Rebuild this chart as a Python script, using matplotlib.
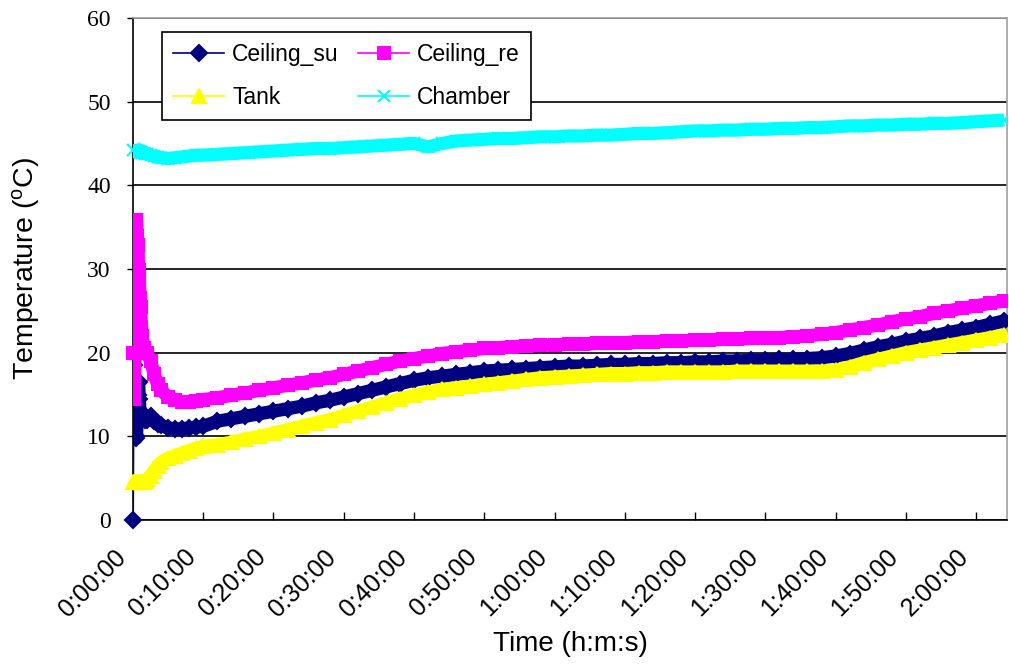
import numpy as np
import matplotlib
matplotlib.use("Agg")
from matplotlib import pyplot as plt
from matplotlib.lines import Line2D
from matplotlib.ticker import FuncFormatter, MultipleLocator
from matplotlib.transforms import ScaledTranslation

plt.rcParams['font.family'] = ['Liberation Sans', 'DejaVu Sans']
plt.rcParams['mathtext.default'] = 'regular'

# time in minutes
t_early = [0, 0.1, 0.2, 0.3, 0.4, 0.5, 0.6, 0.7, 0.8, 0.9, 1.0, 1.1, 1.2, 1.3,
           1.5, 1.7, 2, 2.5, 3, 3.5, 4, 5, 6, 7, 8, 9, 10]
t_late = [12, 14, 16, 18, 20, 22, 24, 26, 28, 30, 32, 34, 36, 38, 40, 42, 44, 46,
          48, 50, 52, 54, 56, 58, 60, 62, 64, 66, 68, 70, 72, 74, 76, 78, 80, 82,
          84, 86, 88, 90, 92, 94, 96, 98, 100, 102, 104, 106, 108, 110, 112, 114,
          116, 118, 120, 122, 124]
time_min = t_early + t_late

ceiling_su = [0, 18.5, 11.5, 12.3, 10.0, 9.8, 12.0, 15.0, 16.5, 14.5, 13.0, 12.5, 12.0, 12.8,
              12.2, 12.0, 12.0, 12.4, 11.8, 11.5, 11.3, 11.0, 10.9, 10.9, 11.0, 11.1, 11.2,
              11.8, 12.1, 12.4, 12.7, 13.0, 13.3, 13.6, 14.0, 14.3, 14.7, 15.1, 15.5, 15.9, 16.3,
              16.7, 17.0, 17.2, 17.4, 17.6, 17.8, 17.9, 18.0, 18.1, 18.2, 18.3, 18.4, 18.4, 18.5,
              18.6, 18.6, 18.7, 18.7, 18.8, 18.8, 18.9, 18.9, 19.0, 19.0, 19.1, 19.1, 19.2, 19.2,
              19.3, 19.4, 19.6, 19.9, 20.3, 20.7, 21.0, 21.4, 21.7, 22.0, 22.4, 22.7, 23.0, 23.4,
              23.8]
ceiling_re = [20, 23, 14.5, 20, 30, 35.8, 34, 32.9, 29.9, 28.9, 26.5, 25.4, 23, 22,
              20.5, 20.0, 20.0, 19.0, 17.5, 16.2, 15.5, 14.7, 14.3, 14.1, 14.1, 14.2, 14.4,
              14.6, 14.9, 15.2, 15.5, 15.8, 16.1, 16.4, 16.7, 17.0, 17.4, 17.8, 18.2, 18.6, 19.0,
              19.3, 19.6, 19.9, 20.1, 20.3, 20.5, 20.6, 20.7, 20.8, 20.9, 20.9, 21.0, 21.0, 21.1,
              21.2, 21.2, 21.3, 21.3, 21.4, 21.4, 21.5, 21.5, 21.6, 21.6, 21.7, 21.7, 21.8, 21.9,
              22.0, 22.2, 22.4, 22.7, 23.0, 23.3, 23.7, 24.0, 24.3, 24.7, 25.0, 25.3, 25.6, 25.9,
              26.2]
tank = [4.6, 4.6, 4.6, 4.6, 4.6, 4.6, 4.6, 4.6, 4.6, 4.6, 4.6, 4.6, 4.6, 4.6,
        4.6, 4.7, 4.9, 5.3, 5.9, 6.5, 6.9, 7.4, 7.7, 8.0, 8.3, 8.6, 8.8,
        9.0, 9.3, 9.7, 10.0, 10.4, 10.8, 11.2, 11.6, 12.0, 12.5, 13.0, 13.5, 14.0, 14.5,
        14.9, 15.3, 15.6, 15.8, 16.0, 16.2, 16.4, 16.6, 16.8, 17.0, 17.1, 17.2, 17.3, 17.4,
        17.5, 17.5, 17.6, 17.6, 17.7, 17.7, 17.7, 17.7, 17.7, 17.8, 17.8, 17.8, 17.8, 17.8,
        17.8, 17.8, 17.9, 18.3, 18.8, 19.2, 19.6, 20.0, 20.3, 20.6, 20.9, 21.2, 21.5, 21.8,
        22.1]
chamber = [44.2, 44.3, 44.2, 44.1, 44.2, 44.1, 44.1, 44.1, 44.0, 44.1, 44.0, 44.0, 43.9, 43.9,
           43.9, 43.8, 43.8, 43.6, 43.5, 43.4, 43.3, 43.2, 43.3, 43.4, 43.5, 43.6, 43.6,
           43.7, 43.8, 43.9, 44.0, 44.1, 44.2, 44.3, 44.4, 44.4, 44.5, 44.6, 44.7, 44.8, 44.9,
           45.0, 44.6, 45.0, 45.3, 45.4, 45.5, 45.6, 45.6, 45.7, 45.8, 45.8, 45.9, 45.9, 46.0,
           46.0, 46.1, 46.2, 46.2, 46.3, 46.4, 46.5, 46.5, 46.6, 46.6, 46.7, 46.7, 46.8, 46.8,
           46.9, 46.9, 47.0, 47.1, 47.1, 47.2, 47.2, 47.3, 47.3, 47.4, 47.4, 47.5, 47.6, 47.7,
           47.8]

series = [
    ("Ceiling_su", ceiling_su, "#000080", "D", 8),
    ("Ceiling_re", ceiling_re, "#FF00FF", "s", 9),
    ("Tank", tank, "#FFFF00", "^", 10),
    ("Chamber", chamber, "#00FFFF", "x", 9),
]

fig = plt.figure(figsize=(10.09, 6.66), dpi=100)
ax = fig.add_axes([0.1318, 0.2192, 0.9980 - 0.1318, 0.9730 - 0.2192])

for name, vals, col, mk, ms in series:
    # thin connecting line plus the first marker
    ax.plot(time_min[:2], vals[:2], color=col, linewidth=1.5, zorder=3)
    ax.plot(time_min[:1], vals[:1], color=col, linestyle='none', marker=mk,
            markersize=ms, markeredgewidth=1.5, zorder=3, clip_on=False)
    # dense marker band
    ax.plot(time_min[1:], vals[1:], color=col, linewidth=9.5, solid_capstyle='butt',
            solid_joinstyle='round', marker=mk, markersize=ms, markeredgewidth=1.5, zorder=3)

ax.set_xlim(0, 124.4)
ax.set_ylim(0, 60)
ax.xaxis.set_major_locator(MultipleLocator(10))
ax.yaxis.set_major_locator(MultipleLocator(10))
ax.xaxis.set_major_formatter(FuncFormatter(lambda v, p: "%d:%02d:00" % (int(v // 60), int(round(v)) % 60)))

ax.grid(axis='y', color='black', linewidth=1.2, zorder=1)
ax.set_axisbelow(True)
for s in ['top', 'right']:
    ax.spines[s].set_color('#a0a0a0')
    ax.spines[s].set_linewidth(1.2)
for s in ['left', 'bottom']:
    ax.spines[s].set_color('black')
    ax.spines[s].set_linewidth(1.2)

ax.tick_params(axis='x', direction='in', length=6, width=1, pad=24)
ax.tick_params(axis='y', direction='out', length=4, width=1, pad=12)
shift = ScaledTranslation(-8 / 72, 0, fig.dpi_scale_trans)
for lab in ax.get_xticklabels():
    lab.set_rotation(45)
    lab.set_ha('right')
    lab.set_va('center')
    lab.set_rotation_mode('anchor')
    lab.set_fontsize(18)
    lab.set_transform(lab.get_transform() + shift)
for lab in ax.get_yticklabels():
    lab.set_fontfamily('Liberation Serif')
    lab.set_fontsize(17)

ax.set_xlabel("Time (h:m:s)", fontsize=20)
ax.xaxis.set_label_coords(0.5, -0.222)
ax.set_ylabel("Temperature ($^{o}$C)", fontsize=20.5)
ax.yaxis.set_label_coords(-0.104, 0.5)

handles = [Line2D([], [], color=col, linewidth=1.2, marker=mk, markersize=ms,
                  markeredgewidth=1.5, label=name) for name, vals, col, mk, ms in series]
order = [0, 2, 1, 3]
leg = ax.legend([handles[i] for i in order], [handles[i].get_label() for i in order],
                ncol=2, loc='upper left', bbox_to_anchor=(0.0332, 0.972), borderaxespad=0,
                fontsize=16.5, frameon=True, fancybox=False, framealpha=1,
                edgecolor='black', handlelength=2.2, handletextpad=0.36,
                columnspacing=0.86, borderpad=0.5, labelspacing=0.85)
leg.get_frame().set_linewidth(1.2)
leg.set_zorder(5)

plt.savefig("out.png", dpi=100)
